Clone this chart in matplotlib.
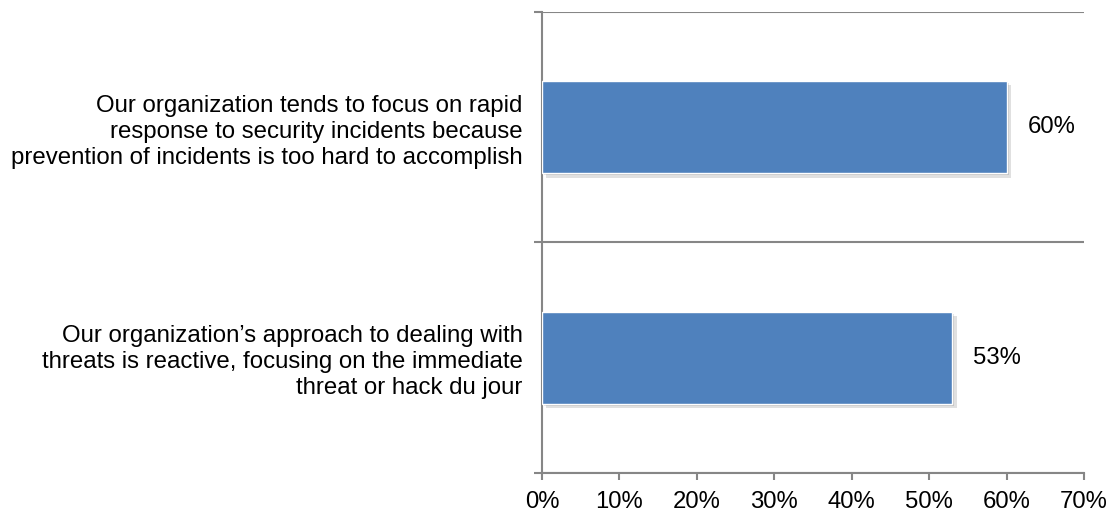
import matplotlib
matplotlib.use("Agg")
import matplotlib.pyplot as plt
import matplotlib.patheffects as pe
from matplotlib.ticker import FixedLocator

# survey statements (bottom to top) and share of respondents agreeing
statements = [
    "Our organization\u2019s approach to dealing with\nthreats is reactive, focusing on the immediate\nthreat or hack du jour",
    "Our organization tends to focus on rapid\nresponse to security incidents because\nprevention of incidents is too hard to accomplish",
]
pct = [53, 60]
xticks = [0, 10, 20, 30, 40, 50, 60, 70]

plt.rcParams["font.family"] = ["Liberation Sans", "DejaVu Sans"]
bar_color = "#4F81BD"
line_color = "#868686"

fig = plt.figure(figsize=(11.12, 5.15), dpi=100)
ax = fig.add_axes([0.4874, 0.0816, 0.4874, 0.8951])

ypos = list(range(len(pct)))
bars = ax.barh(ypos, pct, height=0.4, color=bar_color, edgecolor="white", linewidth=1.0,
               zorder=3)
for b in bars:
    b.set_path_effects([pe.SimplePatchShadow(offset=(3, -3), shadow_rgbFace="#000000",
                                              alpha=0.12),
                        pe.SimplePatchShadow(offset=(1.5, -1.5), shadow_rgbFace="#000000",
                                              alpha=0.12),
                        pe.Normal()])

for y, v in zip(ypos, pct):
    ax.text(v + 2.7, y, f"{v}%", va="center", ha="left", fontsize=17.2)

ax.set_xlim(0, 70)
ax.set_ylim(-0.5, len(pct) - 0.5)
ax.set_xticks(xticks)
ax.set_xticklabels([f"{t}%" for t in xticks], fontsize=17.2)

# category boundaries get ticks and gridlines, labels sit between them
ax.yaxis.set_major_locator(FixedLocator([-0.5, 0.5, 1.5]))
ax.yaxis.set_major_formatter(plt.NullFormatter())
ax.yaxis.set_minor_locator(FixedLocator(ypos))
ax.set_yticklabels(statements, minor=True, fontsize=17.3, linespacing=1.24)
ax.tick_params(axis="y", which="minor", length=0, pad=14)
ax.tick_params(axis="y", which="major", length=6, width=1.5, color=line_color)
ax.tick_params(axis="x", length=5, width=1.5, color=line_color, pad=8)
ax.grid(axis="y", which="major", color=line_color, linewidth=1.5, zorder=1)

for s in ["right", "top"]:
    ax.spines[s].set_visible(False)
for s in ["left", "bottom"]:
    ax.spines[s].set_color(line_color)
    ax.spines[s].set_linewidth(1.5)

fig.savefig("out.png", dpi=100)
